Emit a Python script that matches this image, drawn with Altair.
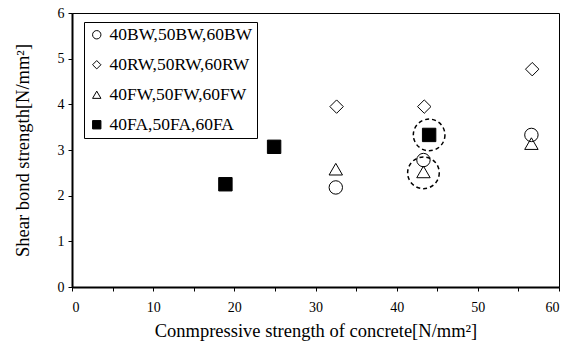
import altair as alt
import pandas as pd

series = ["40BW,50BW,60BW", "40RW,50RW,60RW", "40FW,50FW,60FW", "40FA,50FA,60FA"]
shapes = ["circle", "diamond", "triangle-up", "square"]
fills = ["transparent", "transparent", "transparent", "black"]
strokes = ["black", "black", "black", "black"]

bw_x = [32.5, 43.3, 56.6]
bw_y = [2.18, 2.78, 3.33]
rw_x = [32.6, 43.4, 56.7]
rw_y = [3.95, 3.95, 4.77]
fw_x = [32.5, 43.3, 56.6]
fw_y = [2.58, 2.52, 3.14]
fa_x = [18.9, 24.9, 44.0]
fa_y = [2.25, 3.07, 3.33]

hl_x = [43.3, 44.0]
hl_y = [2.50, 3.33]

rows = []
for name, xs, ys in zip(series, [bw_x, rw_x, fw_x, fa_x], [bw_y, rw_y, fw_y, fa_y]):
    for x, y in zip(xs, ys):
        rows.append({"series": name, "x": x, "y": y})
df = pd.DataFrame(rows)
hl = pd.DataFrame({"x": hl_x, "y": hl_y})

FONT = "Liberation Serif"

xscale = alt.Scale(domain=[0, 60], nice=False)
yscale = alt.Scale(domain=[0, 6], nice=False)

leg = dict(title=None, orient="none", legendX=12, legendY=9,
           strokeColor="black", fillColor="white", padding=4,
           rowPadding=11, symbolSize=70,
           symbolStrokeWidth=1, labelFontSize=17.5, labelFont=FONT,
           labelColor="black", labelOffset=4, symbolOpacity=1)

points = alt.Chart(df).mark_point(strokeWidth=1, size=180, opacity=1).encode(
    x=alt.X("x:Q", scale=xscale,
            axis=alt.Axis(title="Conmpressive strength of concrete[N/mm²]",
                          values=list(range(0, 61, 5)),
                          labelExpr="datum.value % 10 == 0 ? datum.label : ''",
                          tickSize=4, labelPadding=9, titlePadding=7, grid=False)),
    y=alt.Y("y:Q", scale=yscale,
            axis=alt.Axis(title="Shear bond strength[N/mm²]", values=list(range(0, 7)),
                          tickSize=4, labelPadding=4, titlePadding=25, grid=False)),
    shape=alt.Shape("series:N", scale=alt.Scale(domain=series, range=shapes),
                    legend=alt.Legend(**leg)),
    fill=alt.Fill("series:N", scale=alt.Scale(domain=series, range=fills),
                  legend=alt.Legend(**leg)),
    stroke=alt.Stroke("series:N", scale=alt.Scale(domain=series, range=strokes),
                      legend=alt.Legend(**leg)),
)

rings = alt.Chart(hl).mark_point(shape="circle", size=1000, stroke="black", strokeWidth=1.5,
                                 strokeDash=[4, 3], filled=False, opacity=1).encode(
    x=alt.X("x:Q", scale=xscale), y=alt.Y("y:Q", scale=yscale)
)

chart = alt.layer(points, rings).properties(
    width=487, height=274,
    autosize=alt.AutoSizeParams(type="none"),
    padding={"left": 64, "top": 5, "right": 7, "bottom": 54},
    background="white",
).configure_view(stroke="black", strokeWidth=1).configure_axis(
    domainColor="black", domainWidth=2, tickColor="black", labelColor="black", titleColor="black",
    labelFont=FONT, titleFont=FONT, labelFontSize=14, titleFontSize=18.5, titleFontWeight="normal"
)

chart.save("out.html", embed_options={"renderer": "svg", "actions": False})
